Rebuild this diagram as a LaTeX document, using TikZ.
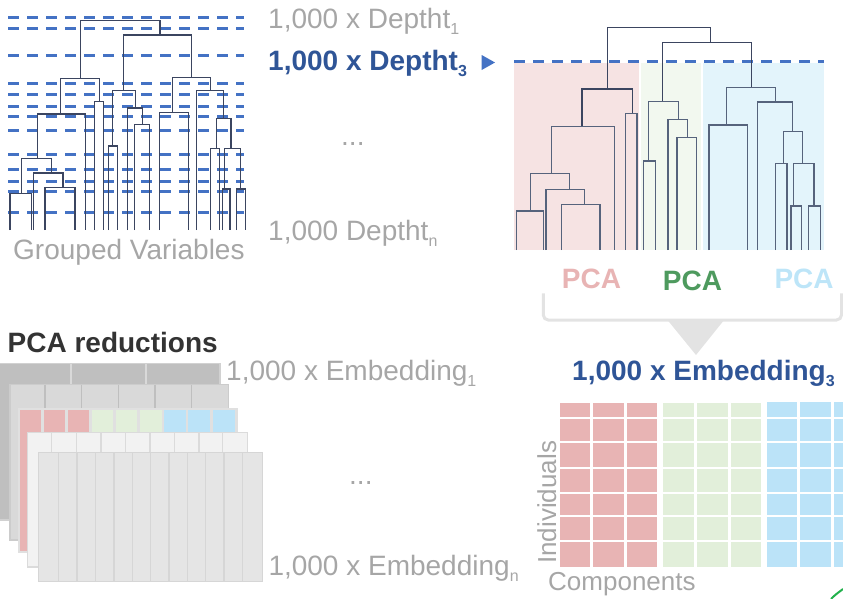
\documentclass[tikz,border=0pt]{standalone}
\usepackage{fontspec}
\setmainfont{Liberation Sans}
\definecolor{dashblue}{HTML}{4472C4}
\definecolor{titleblue}{HTML}{2F5597}
\definecolor{lblgray}{HTML}{A6A6A6}
\definecolor{dendcol}{HTML}{3B4560}
\definecolor{dendcolb}{HTML}{56637C}
\definecolor{pinkbg}{HTML}{F6E3E3}
\definecolor{greenbg}{HTML}{F2F8EF}
\definecolor{bluebg}{HTML}{E3F4FB}
\definecolor{pinkc}{HTML}{E8B4B4}
\definecolor{greenc}{HTML}{E2EFDA}
\definecolor{bluec}{HTML}{BBE3F8}
\definecolor{pcagreen}{HTML}{4E9A5E}
\definecolor{pcablue}{HTML}{BDE5F8}
\definecolor{bracketgray}{HTML}{E3E3E3}
\definecolor{darktext}{HTML}{333333}
\definecolor{cornergreen}{HTML}{22B14C}
\tikzset{
  bluedash/.style={draw=dashblue, line width=3pt, dash pattern=on 11pt off 8pt},
  dendro/.style={draw=dendcol, line width=1.3pt, line join=miter},
  dendrob/.style={draw=dendcolb, line width=1.3pt, line join=miter},
  lbl/.style={anchor=base west, inner sep=0pt, font=\fontsize{28}{30}\selectfont},
  smalllbl/.style={anchor=base west, inner sep=0pt, font=\fontsize{26}{28}\selectfont, text=lblgray},
}
\newcommand{\mrg}[6][dendro]{\draw[#1] (#2,#3) -- (#2,#6) -- (#4,#6) -- (#4,#5);}
\newcommand{\subsc}[1]{\raisebox{-6pt}{\fontsize{16}{16}\selectfont #1}}
\begin{document}
\begin{tikzpicture}[x=1pt,y=-1pt]
\useasboundingbox (0,0) rectangle (843,598);

% ---------- top-left: dashed cut lines ----------
\foreach \yy in {17.3,28.7,55.3,83.3,94.7,106,116.7,130.7,154,169.3,181.3,191.3,212}{
  \draw[bluedash] (8,\yy) -- (244,\yy);
}
% ---------- top-left dendrogram ----------
\mrg{80.7}{78.7}{160}{35}{20.7}
\mrg{123.3}{90.7}{191.7}{77.3}{35}
\mrg{60.7}{114}{99.3}{101.7}{78.7}
\mrg{37.3}{158.3}{85.7}{230}{114}
\mrg{21.3}{193.3}{51.3}{173}{158.3}
\mrg{10}{230}{31.7}{230}{193.3}
\mrg{33.3}{230}{63}{187.3}{173}
\mrg{45}{230}{75}{230}{187.3}
\mrg{94.7}{230}{103.3}{230}{101.7}
\mrg{112.7}{146}{135.3}{108}{90.7}
\mrg{108.7}{230}{117.3}{230}{146}
\mrg{127.3}{230}{142.7}{124.7}{108}
\mrg{134.7}{230}{149.3}{230}{124.7}
\mrg{172.7}{112.7}{210.3}{90.7}{77.3}
\mrg{159.3}{230}{188.7}{230}{112.7}
\mrg{196.7}{230}{223.3}{118.3}{90.7}
\mrg{216.7}{148.7}{231}{148.7}{118.3}
\mrg{210.7}{230}{219.3}{230}{148.7}
\mrg{224.7}{189}{240.3}{189}{148.7}
\mrg{222.7}{230}{230}{230}{189}
\mrg{236.7}{230}{245.3}{230}{189}

\node[lbl, text=lblgray] (grouped) at (13,259.3) {Grouped Variables};

% ---------- depth labels ----------
\node[lbl, text=lblgray] (d1) at (268,28.3) {1,000 x Deptht\subsc{1}};
\node[lbl, text=titleblue, font=\fontsize{28}{30}\selectfont\bfseries] (d3) at (268,70.7) {1,000 x Deptht\subsc{3}};
\fill[dashblue] (481.7,55) -- (495,62.5) -- (481.7,70) -- cycle;
\node[lbl, text=lblgray] (ddots) at (341,145) {...};
\node[lbl, text=lblgray] (dn) at (268,240) {1,000 Deptht\subsc{n}};

% ---------- top-right: clusters ----------
\fill[pinkbg] (514,63.3) rectangle (639.3,250);
\fill[greenbg] (640.7,63.3) rectangle (701.3,250);
\fill[bluebg] (702.7,63.3) rectangle (824,250);
\draw[bluedash] (514,61.3) -- (824,61.3);
\mrg{607.7}{89}{710.3}{42.7}{27.3}
\mrg{662.7}{101.7}{751.3}{87.7}{42.7}
\mrg{582}{126.3}{632.3}{113.3}{89}
\mrg[dendrob]{551.3}{173.7}{614.3}{250}{126.3}
\mrg[dendrob]{530.7}{211}{569.3}{189.3}{173.7}
\mrg[dendrob]{516.7}{250}{543.3}{250}{211}
\mrg[dendrob]{546}{250}{584.7}{204.3}{189.3}
\mrg[dendrob]{561.7}{250}{600}{250}{204.3}
\mrg[dendrob]{625.7}{250}{637}{250}{113.3}
\mrg[dendrob]{648.7}{161}{678.3}{119.7}{101.7}
\mrg[dendrob]{643.7}{250}{655.3}{250}{161}
\mrg[dendrob]{668}{250}{687.3}{137.7}{119.7}
\mrg[dendrob]{677}{250}{696.3}{250}{137.7}
\mrg[dendrob]{726.7}{125}{775.7}{102}{87.7}
\mrg[dendrob]{709}{250}{747.3}{250}{125}
\mrg[dendrob]{757.7}{250}{792.3}{131.3}{102}
\mrg[dendrob]{783.3}{163.3}{802.3}{163.3}{131.3}
\mrg[dendrob]{775.3}{250}{787}{250}{163.3}
\mrg[dendrob]{793.7}{206}{814}{206}{163.3}
\mrg[dendrob]{791}{250}{801.3}{250}{206}
\mrg[dendrob]{808.7}{250}{820.3}{250}{206}

% ---------- PCA labels and bracket ----------
\node[lbl, text=pinkc, font=\fontsize{28}{30}\selectfont\bfseries] (pca1) at (561.7,288.3) {PCA};
\node[lbl, text=pcagreen, font=\fontsize{28}{30}\selectfont\bfseries] (pca2) at (662.7,290.7) {PCA};
\node[lbl, text=pcablue, font=\fontsize{28}{30}\selectfont\bfseries] (pca3) at (774.3,288.3) {PCA};
\draw[bracketgray, line width=3pt, rounded corners=5pt] (543.3,293.3) -- (543.3,320) -- (841.5,320) -- (841.5,293.3);
\fill[bracketgray] (668.3,321) -- (723.3,321) -- (696,355) -- cycle;

\node[lbl, text=titleblue, font=\fontsize{28}{30}\selectfont\bfseries] (e3) at (572,380) {1,000 x Embedding\subsc{3}};

% ---------- bottom-right grid ----------
\fill[pinkc] (560,403) rectangle (657,567);
\fill[greenc] (663,403) rectangle (761,567);
\fill[bluec] (767,402) rectangle (843,567);
\foreach \xx in {591,625,695,729,798,832}{
  \draw[white, line width=3pt] (\xx,400) -- (\xx,569);
}
\foreach \yy in {418.3,441.7,467.7,493,516.3,541}{
  \draw[white, line width=2pt] (558,\yy) -- (843,\yy);
}
\node[smalllbl, rotate=90] (indiv) at (556,564) {Individuals};
\node[smalllbl] (comp) at (548,590) {Components};
\draw[cornergreen, line width=2pt] (831,599) .. controls (835,595) .. (843,589);

% ---------- bottom-left stacks ----------
\node[lbl, text=darktext, font=\fontsize{28}{30}\selectfont\bfseries] (pcared) at (7.5,352) {PCA reductions};
% layer 1
\filldraw[fill=black!25, draw=black!18, line width=1.5pt] (-3,363.5) rectangle (220,520);
\foreach \xx in {70.7,145.7}{ \draw[black!15, line width=2pt] (\xx,363.5) -- (\xx,384); }
% layer 2
\filldraw[fill=black!15, draw=black!20, line width=1.5pt] (10,384.5) rectangle (228.3,540);
\foreach \xx in {45,81.7,118.3,155,191.7}{ \draw[black!25, line width=1.5pt] (\xx,384.5) -- (\xx,408); }
% layer 3
\filldraw[fill=black!12, draw=black!12, line width=1pt] (18,408.5) rectangle (237,552);
\fill[pinkc] (19.5,410) rectangle (41,551);
\fill[pinkc] (43.5,410) rectangle (65,431.5);
\fill[pinkc] (67.7,410) rectangle (89.3,431.5);
\fill[greenc] (91.7,410) rectangle (113.3,431.5);
\fill[greenc] (116,410) rectangle (137.3,431.5);
\fill[greenc] (140,410) rectangle (161.7,431.5);
\fill[bluec] (164,410) rectangle (186,431.5);
\fill[bluec] (188.3,410) rectangle (210,431.5);
\fill[bluec] (212.7,410) rectangle (235,431.5);
% layer 4
\filldraw[fill=black!5, draw=black!14, line width=1.5pt] (27.3,432.7) rectangle (247.7,567);
\foreach \xx in {51.7,76.7,101,125.7,150,174.3,199,222.7}{ \draw[black!14, line width=1.5pt] (\xx,432.7) -- (\xx,453); }
% layer 5
\filldraw[fill=black!10, draw=black!16, line width=1.5pt] (38.3,452.7) rectangle (262.3,581.7);
\foreach \xx in {58.3,77,95.7,114,132.3,150.7,169,187.3,205.7,224,242.3}{ \draw[black!16, line width=1.5pt] (\xx,452.7) -- (\xx,581.7); }

% ---------- embedding labels ----------
\node[lbl, text=lblgray] (e1) at (226,380) {1,000 x Embedding\subsc{1}};
\node[lbl, text=lblgray] (edots) at (349,484) {...};
\node[lbl, text=lblgray] (en) at (268.3,575) {1,000 x Embedding\subsc{n}};
\end{tikzpicture}
\end{document}
